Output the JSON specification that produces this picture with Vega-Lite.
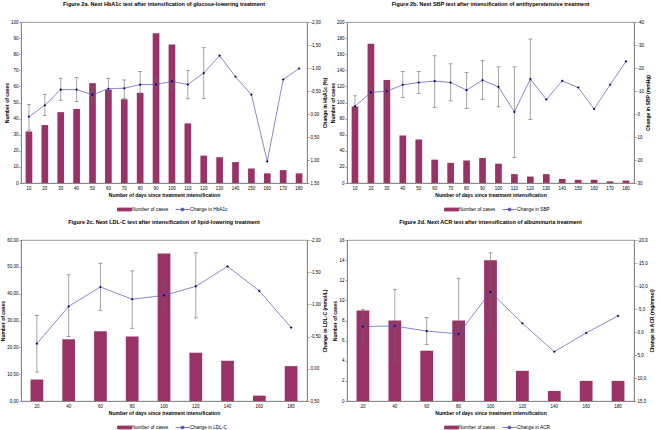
{
  "$schema": "https://vega.github.io/schema/vega-lite/v6.json",
  "background": "white",
  "padding": {"left": 0, "top": 1, "right": 1, "bottom": 0},
  "datasets": {
    "a": [
      {"day": 10, "cases": 32, "change": 0.06, "lo": -0.21, "hi": 0.35},
      {"day": 20, "cases": 36, "change": -0.19, "lo": -0.42, "hi": 0.03},
      {"day": 30, "cases": 44, "change": -0.53, "lo": -0.78, "hi": -0.30},
      {"day": 40, "cases": 46, "change": -0.53, "lo": -0.79, "hi": -0.27},
      {"day": 50, "cases": 62, "change": -0.42, "lo": -0.60, "hi": -0.27},
      {"day": 60, "cases": 58, "change": -0.55, "lo": -0.77, "hi": -0.33},
      {"day": 70, "cases": 52, "change": -0.56, "lo": -0.74, "hi": -0.34},
      {"day": 80, "cases": 56, "change": -0.64, "lo": -0.92, "hi": -0.37},
      {"day": 90, "cases": 93, "change": -0.64, "lo": -0.79, "hi": -0.49},
      {"day": 100, "cases": 86, "change": -0.71, "lo": -0.88, "hi": -0.53},
      {"day": 110, "cases": 37, "change": -0.64, "lo": -0.94, "hi": -0.33},
      {"day": 120, "cases": 17, "change": -0.89, "lo": -1.44, "hi": -0.34},
      {"day": 130, "cases": 16, "change": -1.27, "lo": null, "hi": null},
      {"day": 140, "cases": 13, "change": -0.81, "lo": null, "hi": null},
      {"day": 150, "cases": 9, "change": -0.42, "lo": null, "hi": null},
      {"day": 160, "cases": 6, "change": 1.03, "lo": null, "hi": null},
      {"day": 170, "cases": 8, "change": -0.75, "lo": null, "hi": null},
      {"day": 180, "cases": 6, "change": -0.99, "lo": null, "hi": null}
    ],
    "b": [
      {"day": 10, "cases": 95, "change": -3.4, "lo": -7.9, "hi": 1.2},
      {"day": 20, "cases": 173, "change": -9.4, "lo": -12.7, "hi": -6.3},
      {"day": 30, "cases": 128, "change": -9.9, "lo": -13.4, "hi": -6.0},
      {"day": 40, "cases": 59, "change": -12.7, "lo": -18.4, "hi": -7.2},
      {"day": 50, "cases": 54, "change": -13.7, "lo": -18.4, "hi": -8.9},
      {"day": 60, "cases": 29, "change": -14.3, "lo": -25.3, "hi": -2.8},
      {"day": 70, "cases": 25, "change": -13.7, "lo": -21.8, "hi": -5.7},
      {"day": 80, "cases": 28, "change": -10.4, "lo": -18.1, "hi": -2.4},
      {"day": 90, "cases": 31, "change": -14.7, "lo": -23.3, "hi": -6.3},
      {"day": 100, "cases": 24, "change": -11.8, "lo": -20.5, "hi": -3.1},
      {"day": 110, "cases": 11, "change": -0.9, "lo": -20.5, "hi": 19.0},
      {"day": 120, "cases": 8, "change": -15.2, "lo": -32.6, "hi": 2.3},
      {"day": 130, "cases": 11, "change": -6.3, "lo": null, "hi": null},
      {"day": 140, "cases": 5, "change": -14.4, "lo": null, "hi": null},
      {"day": 150, "cases": 4, "change": -11.5, "lo": null, "hi": null},
      {"day": 160, "cases": 4, "change": -2.2, "lo": null, "hi": null},
      {"day": 170, "cases": 2, "change": -12.7, "lo": null, "hi": null},
      {"day": 180, "cases": 3, "change": -22.9, "lo": null, "hi": null}
    ],
    "c": [
      {"day": 20, "cases": 8, "change": -0.39, "lo": -0.83, "hi": 0.05},
      {"day": 40, "cases": 23, "change": -0.97, "lo": -1.46, "hi": -0.50},
      {"day": 60, "cases": 26, "change": -1.27, "lo": -1.64, "hi": -0.91},
      {"day": 80, "cases": 24, "change": -1.08, "lo": -1.52, "hi": -0.63},
      {"day": 100, "cases": 55, "change": -1.14, "lo": -1.37, "hi": -0.93},
      {"day": 120, "cases": 18, "change": -1.28, "lo": -1.80, "hi": -0.79},
      {"day": 140, "cases": 15, "change": -1.59, "lo": null, "hi": null},
      {"day": 160, "cases": 2, "change": -1.21, "lo": null, "hi": null},
      {"day": 180, "cases": 13, "change": -0.64, "lo": null, "hi": null}
    ],
    "d": [
      {"day": 20, "cases": 9, "change": -1.2, "lo": -4.9, "hi": 2.6},
      {"day": 40, "cases": 8, "change": -1.3, "lo": -9.3, "hi": 6.7},
      {"day": 60, "cases": 5, "change": -0.2, "lo": -3.2, "hi": 2.7},
      {"day": 80, "cases": 8, "change": 0.4, "lo": -11.7, "hi": 12.6},
      {"day": 100, "cases": 14, "change": -8.7, "lo": -17.2, "hi": -0.2},
      {"day": 120, "cases": 3, "change": -1.9, "lo": null, "hi": null},
      {"day": 140, "cases": 1, "change": 4.3, "lo": null, "hi": null},
      {"day": 160, "cases": 2, "change": 0.2, "lo": null, "hi": null},
      {"day": 180, "cases": 2, "change": -3.5, "lo": null, "hi": null}
    ]
  },
  "columns": 2,
  "spacing": {"row": 5, "column": 2},
  "resolve": {"scale": {"color": "independent"}, "legend": {"color": "independent"}},
  "concat": [
    {
      "width": 286, "height": 161,
      "title": {"text": "Figure 2a. Next HbA1c test after intensification of glucose-lowering treatment", "frame": "group", "anchor": "middle", "offset": 12},
      "data": {"name": "a"},
      "encoding": {"x": {"field": "day", "type": "ordinal", "scale": {"paddingInner": 0.58, "paddingOuter": 0.29}, "axis": {"title": "Number of days since treatment intensification"}}},
      "layer": [
        {
          "mark": {"type": "bar"},
          "encoding": {
            "y": {"field": "cases", "type": "quantitative", "scale": {"domain": [0, 100]}, "axis": {"title": "Number of cases", "orient": "left", "values": [0,10,20,30,40,50,60,70,80,90,100]}},
            "color": {"datum": "Number of cases", "scale": {"domain": ["Number of cases", "Change in HbA1c"], "range": ["#993366", "#5555B0"]},
              "legend": {"orient": "none", "legendX": 98, "legendY": 182, "direction": "horizontal", "title": null, "encode": {"symbols": {"update": {"shape": {"signal": "datum.value === 'Number of cases' ? 'M-1.4,-0.3H1.4V0.3H-1.4Z' : 'M-1.4,0H1.4M-0.25,-0.25H0.25V0.25H-0.25Z'"}, "fill": {"signal": "datum.value === 'Number of cases' ? '#993366' : '#000080'"}, "stroke": {"signal": "datum.value === 'Number of cases' ? '#993366' : '#5555B0'"}, "strokeWidth": {"value": 0.8}}}}}}
          }
        },
        {
          "layer": [
            {"transform": [{"filter": "isValid(datum.lo)"}], "mark": {"type": "rule", "color": "#666666", "strokeWidth": 0.6},
             "encoding": {"y": {"field": "lo", "type": "quantitative", "scale": {"domain": [-2, 1.5], "reverse": true}, "axis": {"title": "Change in HbA1c (%)", "orient": "right", "values": [-2,-1.5,-1,-0.5,0,0.5,1,1.5], "labelExpr": "(datum.value<0?'-':'')+replace(format(abs(datum.value),'.2f'),'.',',')"}}, "y2": {"field": "hi"}}},
            {"transform": [{"filter": "isValid(datum.lo)"}], "mark": {"type": "tick", "color": "#666666", "size": 4, "thickness": 0.6, "opacity": 1},
             "encoding": {"y": {"field": "lo", "type": "quantitative", "scale": {"domain": [-2, 1.5], "reverse": true}, "axis": {"title": "Change in HbA1c (%)", "orient": "right", "values": [-2,-1.5,-1,-0.5,0,0.5,1,1.5], "labelExpr": "(datum.value<0?'-':'')+replace(format(abs(datum.value),'.2f'),'.',',')"}}}},
            {"transform": [{"filter": "isValid(datum.hi)"}], "mark": {"type": "tick", "color": "#666666", "size": 4, "thickness": 0.6, "opacity": 1},
             "encoding": {"y": {"field": "hi", "type": "quantitative", "scale": {"domain": [-2, 1.5], "reverse": true}, "axis": {"title": "Change in HbA1c (%)", "orient": "right", "values": [-2,-1.5,-1,-0.5,0,0.5,1,1.5], "labelExpr": "(datum.value<0?'-':'')+replace(format(abs(datum.value),'.2f'),'.',',')"}}}},
            {"mark": {"type": "line", "strokeWidth": 0.7},
             "encoding": {"y": {"field": "change", "type": "quantitative", "scale": {"domain": [-2, 1.5], "reverse": true}, "axis": {"title": "Change in HbA1c (%)", "orient": "right", "values": [-2,-1.5,-1,-0.5,0,0.5,1,1.5], "labelExpr": "(datum.value<0?'-':'')+replace(format(abs(datum.value),'.2f'),'.',',')"}}, "color": {"datum": "Change in HbA1c"}}},
            {"mark": {"type": "point", "filled": true, "shape": "diamond", "size": 7, "color": "#000080", "opacity": 1},
             "encoding": {"y": {"field": "change", "type": "quantitative", "scale": {"domain": [-2, 1.5], "reverse": true}, "axis": {"title": "Change in HbA1c (%)", "orient": "right", "values": [-2,-1.5,-1,-0.5,0,0.5,1,1.5], "labelExpr": "(datum.value<0?'-':'')+replace(format(abs(datum.value),'.2f'),'.',',')"}}}}
          ]
        }
      ],
      "resolve": {"scale": {"y": "independent"}}
    },
    {
      "width": 287, "height": 161,
      "title": {"text": "Figure 2b. Next SBP test after intensification of antihyperetensive treatment", "frame": "group", "anchor": "middle", "offset": 12},
      "data": {"name": "b"},
      "encoding": {"x": {"field": "day", "type": "ordinal", "scale": {"paddingInner": 0.58, "paddingOuter": 0.29}, "axis": {"title": "Number of days since treatment intensification"}}},
      "layer": [
        {
          "mark": {"type": "bar"},
          "encoding": {
            "y": {"field": "cases", "type": "quantitative", "scale": {"domain": [0, 200]}, "axis": {"title": "Number of cases", "orient": "left", "values": [0,20,40,60,80,100,120,140,160,180,200]}},
            "color": {"datum": "Number of cases", "scale": {"domain": ["Number of cases", "Change in SBP"], "range": ["#993366", "#5555B0"]},
              "legend": {"orient": "none", "legendX": 99, "legendY": 182, "direction": "horizontal", "title": null, "encode": {"symbols": {"update": {"shape": {"signal": "datum.value === 'Number of cases' ? 'M-1.4,-0.3H1.4V0.3H-1.4Z' : 'M-1.4,0H1.4M-0.25,-0.25H0.25V0.25H-0.25Z'"}, "fill": {"signal": "datum.value === 'Number of cases' ? '#993366' : '#000080'"}, "stroke": {"signal": "datum.value === 'Number of cases' ? '#993366' : '#5555B0'"}, "strokeWidth": {"value": 0.8}}}}}}
          }
        },
        {
          "layer": [
            {"transform": [{"filter": "isValid(datum.lo)"}], "mark": {"type": "rule", "color": "#666666", "strokeWidth": 0.6},
             "encoding": {"y": {"field": "lo", "type": "quantitative", "scale": {"domain": [-40, 30], "reverse": true}, "axis": {"title": "Change in SBP (mmHg)", "orient": "right", "values": [-40,-30,-20,-10,0,10,20,30], "labelExpr": "(datum.value<0?'-':'')+format(abs(datum.value),'d')"}}, "y2": {"field": "hi"}}},
            {"transform": [{"filter": "isValid(datum.lo)"}], "mark": {"type": "tick", "color": "#666666", "size": 4, "thickness": 0.6, "opacity": 1},
             "encoding": {"y": {"field": "lo", "type": "quantitative", "scale": {"domain": [-40, 30], "reverse": true}, "axis": {"title": "Change in SBP (mmHg)", "orient": "right", "values": [-40,-30,-20,-10,0,10,20,30], "labelExpr": "(datum.value<0?'-':'')+format(abs(datum.value),'d')"}}}},
            {"transform": [{"filter": "isValid(datum.hi)"}], "mark": {"type": "tick", "color": "#666666", "size": 4, "thickness": 0.6, "opacity": 1},
             "encoding": {"y": {"field": "hi", "type": "quantitative", "scale": {"domain": [-40, 30], "reverse": true}, "axis": {"title": "Change in SBP (mmHg)", "orient": "right", "values": [-40,-30,-20,-10,0,10,20,30], "labelExpr": "(datum.value<0?'-':'')+format(abs(datum.value),'d')"}}}},
            {"mark": {"type": "line", "strokeWidth": 0.7},
             "encoding": {"y": {"field": "change", "type": "quantitative", "scale": {"domain": [-40, 30], "reverse": true}, "axis": {"title": "Change in SBP (mmHg)", "orient": "right", "values": [-40,-30,-20,-10,0,10,20,30], "labelExpr": "(datum.value<0?'-':'')+format(abs(datum.value),'d')"}}, "color": {"datum": "Change in SBP"}}},
            {"mark": {"type": "point", "filled": true, "shape": "diamond", "size": 7, "color": "#000080", "opacity": 1},
             "encoding": {"y": {"field": "change", "type": "quantitative", "scale": {"domain": [-40, 30], "reverse": true}, "axis": {"title": "Change in SBP (mmHg)", "orient": "right", "values": [-40,-30,-20,-10,0,10,20,30], "labelExpr": "(datum.value<0?'-':'')+format(abs(datum.value),'d')"}}}}
          ]
        }
      ],
      "resolve": {"scale": {"y": "independent"}}
    },
    {
      "width": 286, "height": 161,
      "title": {"text": "Figure 2c. Next LDL-C test after intensification of lipid-lowering treatment", "frame": "group", "anchor": "middle", "offset": 12},
      "data": {"name": "c"},
      "encoding": {"x": {"field": "day", "type": "ordinal", "scale": {"paddingInner": 0.6, "paddingOuter": 0.3}, "axis": {"title": "Number of days since treatment intensification"}}},
      "layer": [
        {
          "mark": {"type": "bar"},
          "encoding": {
            "y": {"field": "cases", "type": "quantitative", "scale": {"domain": [0, 60]}, "axis": {"title": "Number of cases", "orient": "left", "values": [0,10,20,30,40,50,60], "labelExpr": "replace(format(datum.value,'.2f'),'.',',')"}},
            "color": {"datum": "Number of cases", "scale": {"domain": ["Number of cases", "Change in LDL-C"], "range": ["#993366", "#5555B0"]},
              "legend": {"orient": "none", "legendX": 98, "legendY": 182, "direction": "horizontal", "title": null, "encode": {"symbols": {"update": {"shape": {"signal": "datum.value === 'Number of cases' ? 'M-1.4,-0.3H1.4V0.3H-1.4Z' : 'M-1.4,0H1.4M-0.25,-0.25H0.25V0.25H-0.25Z'"}, "fill": {"signal": "datum.value === 'Number of cases' ? '#993366' : '#000080'"}, "stroke": {"signal": "datum.value === 'Number of cases' ? '#993366' : '#5555B0'"}, "strokeWidth": {"value": 0.8}}}}}}
          }
        },
        {
          "layer": [
            {"transform": [{"filter": "isValid(datum.lo)"}], "mark": {"type": "rule", "color": "#666666", "strokeWidth": 0.6},
             "encoding": {"y": {"field": "lo", "type": "quantitative", "scale": {"domain": [-2, 0.5], "reverse": true}, "axis": {"title": "Change in LDL-C (mmol/L)", "orient": "right", "values": [-2,-1.5,-1,-0.5,0,0.5], "labelExpr": "(datum.value<0?'-':'')+replace(format(abs(datum.value),'.2f'),'.',',')"}}, "y2": {"field": "hi"}}},
            {"transform": [{"filter": "isValid(datum.lo)"}], "mark": {"type": "tick", "color": "#666666", "size": 4, "thickness": 0.6, "opacity": 1},
             "encoding": {"y": {"field": "lo", "type": "quantitative", "scale": {"domain": [-2, 0.5], "reverse": true}, "axis": {"title": "Change in LDL-C (mmol/L)", "orient": "right", "values": [-2,-1.5,-1,-0.5,0,0.5], "labelExpr": "(datum.value<0?'-':'')+replace(format(abs(datum.value),'.2f'),'.',',')"}}}},
            {"transform": [{"filter": "isValid(datum.hi)"}], "mark": {"type": "tick", "color": "#666666", "size": 4, "thickness": 0.6, "opacity": 1},
             "encoding": {"y": {"field": "hi", "type": "quantitative", "scale": {"domain": [-2, 0.5], "reverse": true}, "axis": {"title": "Change in LDL-C (mmol/L)", "orient": "right", "values": [-2,-1.5,-1,-0.5,0,0.5], "labelExpr": "(datum.value<0?'-':'')+replace(format(abs(datum.value),'.2f'),'.',',')"}}}},
            {"mark": {"type": "line", "strokeWidth": 0.7},
             "encoding": {"y": {"field": "change", "type": "quantitative", "scale": {"domain": [-2, 0.5], "reverse": true}, "axis": {"title": "Change in LDL-C (mmol/L)", "orient": "right", "values": [-2,-1.5,-1,-0.5,0,0.5], "labelExpr": "(datum.value<0?'-':'')+replace(format(abs(datum.value),'.2f'),'.',',')"}}, "color": {"datum": "Change in LDL-C"}}},
            {"mark": {"type": "point", "filled": true, "shape": "diamond", "size": 7, "color": "#000080", "opacity": 1},
             "encoding": {"y": {"field": "change", "type": "quantitative", "scale": {"domain": [-2, 0.5], "reverse": true}, "axis": {"title": "Change in LDL-C (mmol/L)", "orient": "right", "values": [-2,-1.5,-1,-0.5,0,0.5], "labelExpr": "(datum.value<0?'-':'')+replace(format(abs(datum.value),'.2f'),'.',',')"}}}}
          ]
        }
      ],
      "resolve": {"scale": {"y": "independent"}}
    },
    {
      "width": 287, "height": 161,
      "title": {"text": "Figure 2d. Next ACR test after intensification of albuminuria treatment", "frame": "group", "anchor": "middle", "offset": 12},
      "data": {"name": "d"},
      "encoding": {"x": {"field": "day", "type": "ordinal", "scale": {"paddingInner": 0.6, "paddingOuter": 0.3}, "axis": {"title": "Number of days since treatment intensification"}}},
      "layer": [
        {
          "mark": {"type": "bar"},
          "encoding": {
            "y": {"field": "cases", "type": "quantitative", "scale": {"domain": [0, 16]}, "axis": {"title": "Number of cases", "orient": "left", "values": [0,2,4,6,8,10,12,14,16]}},
            "color": {"datum": "Number of cases", "scale": {"domain": ["Number of cases", "Change in ACR"], "range": ["#993366", "#5555B0"]},
              "legend": {"orient": "none", "legendX": 99, "legendY": 182, "direction": "horizontal", "title": null, "encode": {"symbols": {"update": {"shape": {"signal": "datum.value === 'Number of cases' ? 'M-1.4,-0.3H1.4V0.3H-1.4Z' : 'M-1.4,0H1.4M-0.25,-0.25H0.25V0.25H-0.25Z'"}, "fill": {"signal": "datum.value === 'Number of cases' ? '#993366' : '#000080'"}, "stroke": {"signal": "datum.value === 'Number of cases' ? '#993366' : '#5555B0'"}, "strokeWidth": {"value": 0.8}}}}}}
          }
        },
        {
          "layer": [
            {"transform": [{"filter": "isValid(datum.lo)"}], "mark": {"type": "rule", "color": "#666666", "strokeWidth": 0.6},
             "encoding": {"y": {"field": "lo", "type": "quantitative", "scale": {"domain": [-20, 15], "reverse": true}, "axis": {"title": "Change in ACR (mg/mmol)", "orient": "right", "values": [-20,-15,-10,-5,0,5,10,15], "labelExpr": "(datum.value<0?'-':'')+replace(format(abs(datum.value),'.1f'),'.',',')"}}, "y2": {"field": "hi"}}},
            {"transform": [{"filter": "isValid(datum.lo)"}], "mark": {"type": "tick", "color": "#666666", "size": 4, "thickness": 0.6, "opacity": 1},
             "encoding": {"y": {"field": "lo", "type": "quantitative", "scale": {"domain": [-20, 15], "reverse": true}, "axis": {"title": "Change in ACR (mg/mmol)", "orient": "right", "values": [-20,-15,-10,-5,0,5,10,15], "labelExpr": "(datum.value<0?'-':'')+replace(format(abs(datum.value),'.1f'),'.',',')"}}}},
            {"transform": [{"filter": "isValid(datum.hi)"}], "mark": {"type": "tick", "color": "#666666", "size": 4, "thickness": 0.6, "opacity": 1},
             "encoding": {"y": {"field": "hi", "type": "quantitative", "scale": {"domain": [-20, 15], "reverse": true}, "axis": {"title": "Change in ACR (mg/mmol)", "orient": "right", "values": [-20,-15,-10,-5,0,5,10,15], "labelExpr": "(datum.value<0?'-':'')+replace(format(abs(datum.value),'.1f'),'.',',')"}}}},
            {"mark": {"type": "line", "strokeWidth": 0.7},
             "encoding": {"y": {"field": "change", "type": "quantitative", "scale": {"domain": [-20, 15], "reverse": true}, "axis": {"title": "Change in ACR (mg/mmol)", "orient": "right", "values": [-20,-15,-10,-5,0,5,10,15], "labelExpr": "(datum.value<0?'-':'')+replace(format(abs(datum.value),'.1f'),'.',',')"}}, "color": {"datum": "Change in ACR"}}},
            {"mark": {"type": "point", "filled": true, "shape": "diamond", "size": 7, "color": "#000080", "opacity": 1},
             "encoding": {"y": {"field": "change", "type": "quantitative", "scale": {"domain": [-20, 15], "reverse": true}, "axis": {"title": "Change in ACR (mg/mmol)", "orient": "right", "values": [-20,-15,-10,-5,0,5,10,15], "labelExpr": "(datum.value<0?'-':'')+replace(format(abs(datum.value),'.1f'),'.',',')"}}}}
          ]
        }
      ],
      "resolve": {"scale": {"y": "independent"}}
    }
  ],
  "config": {
    "font": "Liberation Sans",
    "view": {"stroke": "#808080", "strokeWidth": 0.8},
    "title": {"fontSize": 5.5, "fontWeight": "bold", "font": "Liberation Sans", "color": "#000000"},
    "axis": {"labelFontSize": 4.5, "titleFontSize": 5, "titleFontWeight": "bold", "labelColor": "#000000", "titleColor": "#000000", "grid": false, "domainColor": "#808080", "tickColor": "#808080", "tickSize": 2, "labelPadding": 1, "titlePadding": 2, "domainWidth": 0.8, "tickWidth": 0.8, "labelOverlap": false, "labelBound": false},
    "axisLeft": {"titlePadding": 1},
    "axisRight": {"titleAngle": 270, "titleBaseline": "top", "titlePadding": 2},
    "axisX": {"labelAngle": 0, "ticks": false, "tickSize": 0, "titlePadding": 3, "labelPadding": 2},
    "legend": {"labelFontSize": 4.8, "labelColor": "#000000", "symbolSize": 100, "symbolStrokeWidth": 1, "labelOffset": 2, "columnPadding": 4, "gridAlign": "none", "padding": 0}
  }
}
